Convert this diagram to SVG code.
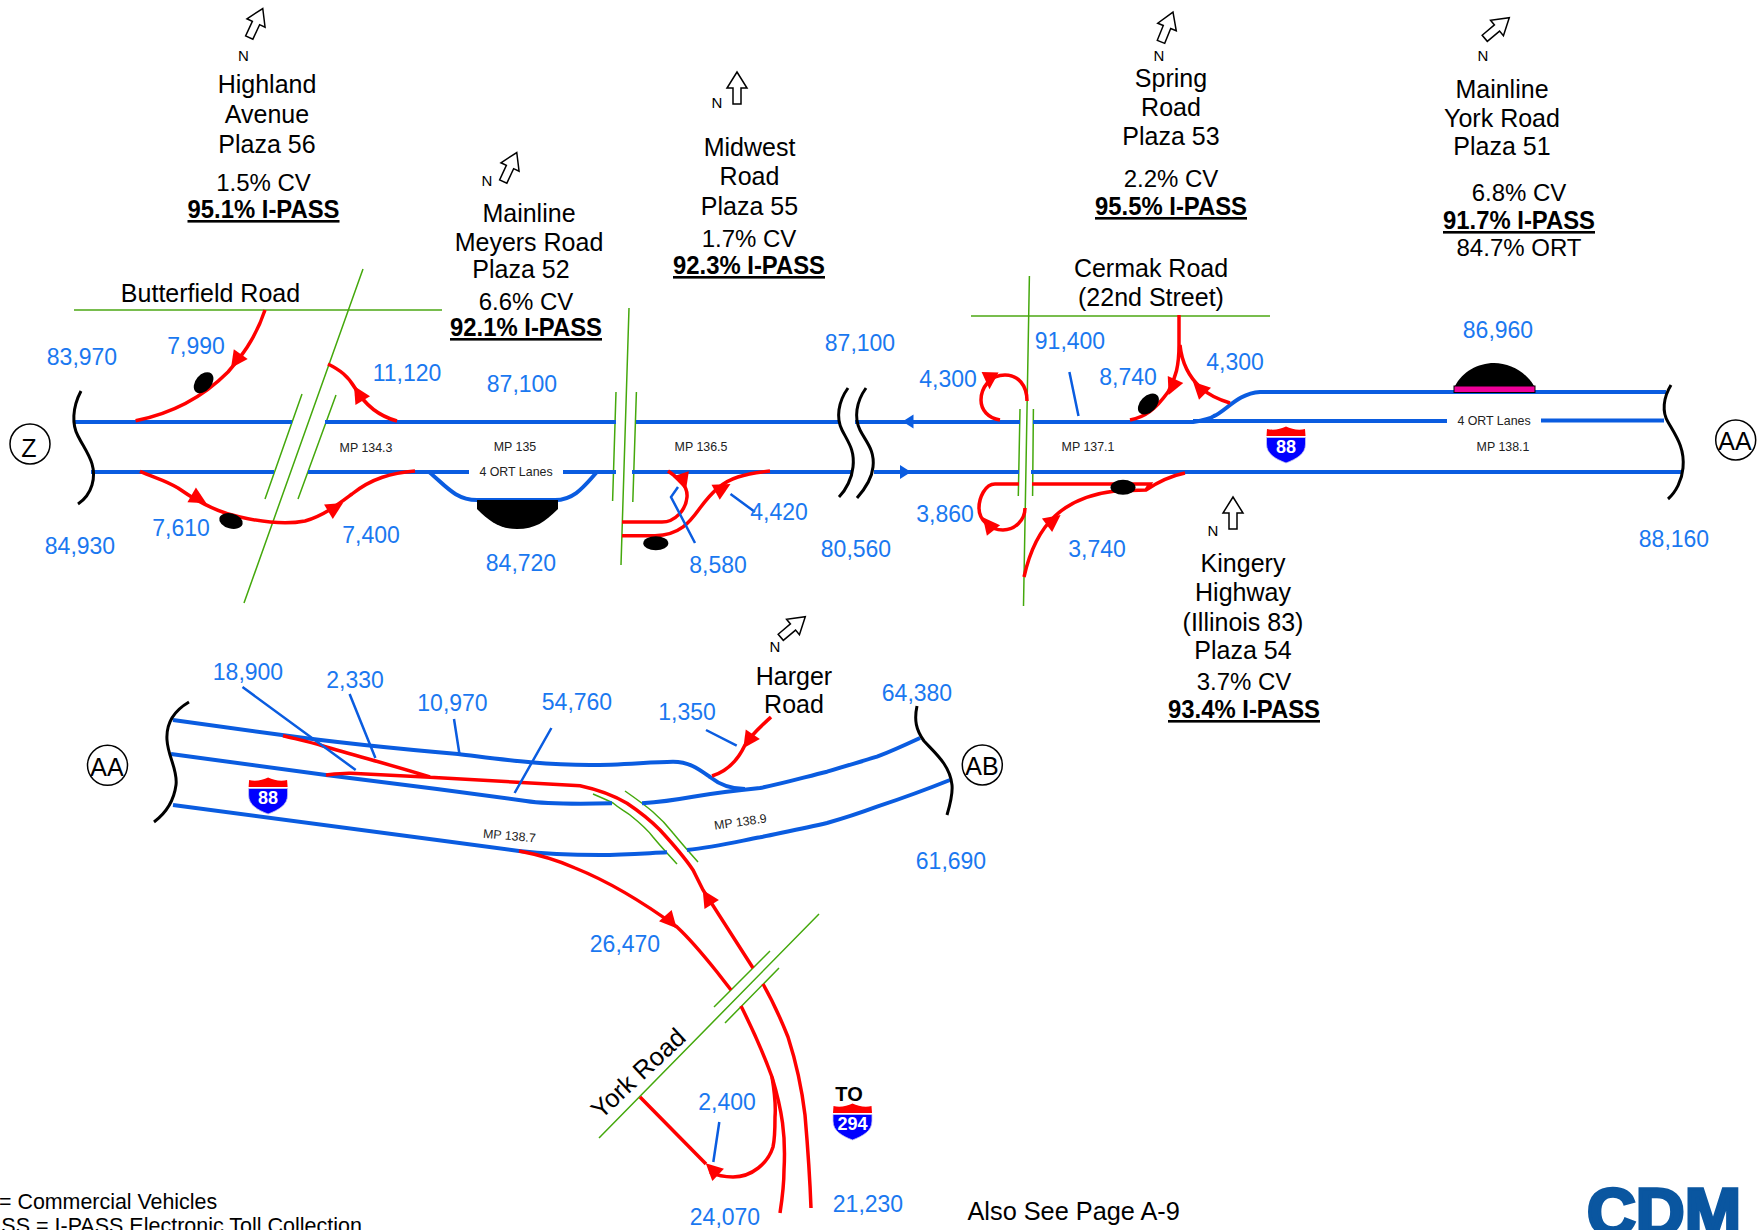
<svg xmlns="http://www.w3.org/2000/svg" xmlns:xlink="http://www.w3.org/1999/xlink" width="1762" height="1230" viewBox="0 0 1762 1230">
<style>
text{font-family:"Liberation Sans",Arial,sans-serif;fill:#000}
.t{font-size:25px;text-anchor:middle}
.c{font-size:24px;text-anchor:middle}
.b{font-size:26px;font-weight:bold;text-anchor:middle;text-decoration:underline}
.v{font-size:23px;text-anchor:middle;fill:#1a78f0}
.m{font-size:12.4px;text-anchor:middle;fill:#222}
.n{font-size:15px;text-anchor:middle}
.s{font-size:18px;font-weight:bold;text-anchor:middle;fill:#fff}
.road{fill:none;stroke:#0a5ce0;stroke-width:4}
.lead{fill:none;stroke:#0a5ce0;stroke-width:2.5}
.red{fill:none;stroke:#f00;stroke-width:3.5}
.g{fill:none;stroke:#44a80c;stroke-width:1.5}
.g2{fill:none;stroke:#78bd4e;stroke-width:2}
.k{fill:none;stroke:#000;stroke-width:3}
.ring{fill:#fff;stroke:#000;stroke-width:1.5}
.north{fill:#fff;stroke:#000;stroke-width:1.5}
</style>
<defs>
<path id="ah" d="M0,0L-17,-8.500L-17,8.500Z" fill="#f00"/>
<path id="bh" d="M0,0L-11,-7L-11,7Z" fill="#0a5ce0"/>
<path id="na" class="north" d="M0,-16L10,0L4,0L4,16L-4,16L-4,0L-10,0Z"/>
<g id="shield">
<path d="M0.5,3C6,4.5 14,3.5 19.5,0.5C25,3.5 33,4.5 38.5,3L39,10H0Z" fill="#f00"/>
<path d="M0,11.5H39V18C39,28 30,33 19.5,37C9,33 0,28 0,18Z" fill="#00f" stroke="#c6c6f0" stroke-width="0.8"/>
</g>
</defs>
<rect width="1762" height="1230" fill="#fff"/>

<g id="connectors">
<path class="g2" d="M74,310H442M971,316H1270"/>
<path class="g" d="M363,269L244,603M302,394L265,499M336,395L298,499M629,308L621,565M616,392L612.6,501M636.4,392L632.8,502M1029.4,276L1023.5,606M1020,409L1018.3,496M1033.4,409L1032.6,496"/>
<path class="g" d="M819,914L599,1138M770,951L714,1007M779,968L725,1023M593,794C600,797 607,800 613,803C620,809 625,811 630,815C640,823 647,829 653,837C662,848 670,856 677,864M625,791C635,798 645,805 653,812C660,818 666,824 673,833C682,844 690,853 698,862"/>
<path class="road" d="M75,422H292M325,422H616M636,422H839M855,422H1020M1033,422H1193C1205,420 1210,419 1214,416C1225,412 1238,393 1260,392H1666M1193,421H1447M1541,420.500H1664"/>
<path class="road" d="M91,472H274M308,472H469M563,472H616M632,472H853M874,472H1019M1031,472H1681M429,472C445,485 455,500 477,500H555C575,500 585,485 597,472"/>
<path class="road" d="M173,720L282,735C340,743 400,749 458,754C500,759 540,765 590,765C620,765 650,762 673,761.700C690,761.700 700,770 710,777C720,785 730,789 745,789"/>
<path class="road" d="M171,754L326,775L437,789L526,801C545,804 580,804 612,803.300M642,803.300C660,802 680,799 693,796.700C715,793 740,790 760,788C785,783 805,777 827,771.700C845,766 860,762 877,756.700C892,751 905,745 920,738"/>
<path class="road" d="M173,805L437,840L519,851C545,854 575,855 600,855C625,855 650,853 667,852.300M687,850C715,847 740,841 760,837.300C785,832 805,828 827,823C845,818 860,813 877,806.700C900,799 925,790 950,780"/>
<path class="k" d="M81,391C72,408 72,425 78,436C86,452 98,465 92,485C89,495 84,500 78,504"/>
<path class="k" d="M848,388C838,402 836,418 842,430C848,442 855,450 853,467C852,478 846,490 839,497"/>
<path class="k" d="M866,388C856,402 854,418 860,430C866,442 875,450 873,467C872,478 864,490 857,498"/>
<path class="k" d="M1671,385C1663,398 1662,412 1668,422C1676,436 1685,448 1683,468C1682,480 1676,492 1668,499"/>
<path class="k" d="M189,702C172,712 166,725 167,740C168,757 178,770 176,785C174,800 166,813 154,822"/>
<path class="k" d="M917,706C914,720 916,730 924,741C935,753 950,765 952,785C953,795 950,805 947,815"/>
<path class="red" d="M265,310C255,340 240,358 228,372C205,395 175,413 135.600,420.700"/>
<path class="red" d="M397,421C375,415 362,400 355,388C348,376 340,370 328,364"/>
<path class="red" d="M140,471.300C155,478 165,480 178,488C195,500 215,512 240,517C262,522 285,525 305,521C325,515 340,503 352,494C372,478 392,473 415,471"/>
<path class="red" d="M622,522H662C675,522 686,510 687,497C688,485 678,478 668,471"/>
<path class="red" d="M622,535.700H655C680,535 690,522 700,508C712,492 722,482 738,477C750,473 760,472 770,471"/>
<path class="red" d="M1027,401C1027,385 1018,375 1005,375C990,375 981,388 981,400C981,410 988,418 1000,420"/>
<path class="red" d="M1019,484H995C985,484 979,498 979,508C979,520 990,530 1003,530C1015,530 1025,520 1025,508"/>
<path class="red" d="M1032,484H1150L1146,490M1024,577C1030,550 1040,530 1055,516C1070,502 1090,494 1115,491L1146,490C1158,482 1170,476 1185,473"/>
<path class="red" d="M1179,315V345C1179,365 1176,378 1168,392C1155,410 1145,417 1130,420M1180,345C1182,365 1190,378 1201,388C1210,396 1220,400 1230,403"/>
<path class="red" d="M283,735.700C296,739 310,742 323,746C360,757 395,766 430,777M326,775C335,774 343,773 351,773.300L430,777.300L580,785.700C600,790 615,796 627,803.300C640,812 650,820 660,830C672,843 683,855 693,870L703,890L753,968"/>
<path class="red" d="M519,851C535,854 555,859 575,868C605,880 640,900 677,927C690,939 705,957 717,972L731,990"/>
<path class="red" d="M771,717C760,727 750,736 745,745C738,760 728,771 712,776"/>
<path class="red" d="M741,1006C752,1028 763,1052 772,1077C782,1110 786,1135 784,1170C784,1185 782,1200 780,1213"/>
<path class="red" d="M763,984C775,1005 782,1022 788,1037C797,1065 802,1090 805,1115C808,1150 810,1180 811,1208"/>
<path class="red" d="M772,1077C775,1095 776,1105 775,1117C775,1130 775,1138 773,1147C768,1163 752,1177 733,1177C725,1177 716,1175 710,1172M640,1097L706,1164"/>
<use href="#ah" transform="translate(231,368) rotate(125)"/>
<use href="#ah" transform="translate(354,386) rotate(-121)"/>
<use href="#ah" transform="translate(206.400,503.300) rotate(30)"/>
<use href="#ah" transform="translate(343,503) rotate(-31)"/>
<use href="#ah" transform="translate(686,490) rotate(72)"/>
<use href="#ah" transform="translate(730.500,484) rotate(-29)"/>
<use href="#ah" transform="translate(989.500,389.300) rotate(92)"/>
<use href="#ah" transform="translate(982.800,517.300) rotate(-129)"/>
<use href="#ah" transform="translate(1060.600,515) rotate(-37)"/>
<use href="#ah" transform="translate(1168.600,395) rotate(114)"/>
<use href="#ah" transform="translate(1193,381.700) rotate(-135)"/>
<use href="#ah" transform="translate(702.700,890) rotate(-122)"/>
<use href="#ah" transform="translate(676.700,928.300) rotate(48)"/>
<use href="#ah" transform="translate(743.300,748.300) rotate(124)"/>
<use href="#ah" transform="translate(705.700,1163.300) rotate(-137)"/>
<use href="#bh" transform="translate(902.500,421.500) rotate(180)"/>
<use href="#bh" transform="translate(911,472)"/>
<path class="lead" d="M678,487L671,497L695,543M730.500,494L755,512M1069.400,372L1078.500,416M242.500,687L355.700,770M349.600,694L375.400,758M454,719L459.600,755M551.400,728L514.600,793M706,730L736.700,745.700M719.300,1122L713.300,1162"/>
</g>

<g id="plazas">
<path fill="#000" d="M477,500H558V509C545,522 535,529 517,529C500,529 490,522 477,509Z"/>
<path fill="#000" d="M1455,386C1462,372 1478,363 1494,363C1510,363 1526,372 1534,386Z"/>
<rect x="1454" y="386" width="81" height="6.500" fill="#ee0099" stroke="#000" stroke-width="1"/>
<ellipse cx="203.600" cy="382.700" rx="12" ry="8" transform="rotate(-50 203.600 382.700)"/>
<ellipse cx="231" cy="521" rx="12" ry="7.500" transform="rotate(15 231 521)"/>
<ellipse cx="655.800" cy="543.300" rx="12.500" ry="7"/>
<ellipse cx="1148.400" cy="404" rx="12.500" ry="8" transform="rotate(-45 1148.400 404)"/>
<ellipse cx="1123" cy="487.300" rx="12.500" ry="7.500"/>
</g>

<g id="ref-z"><circle class="ring" cx="30" cy="444" r="20"/><text x="29" y="457" class="t">Z</text></g>
<g id="ref-aa-1"><circle class="ring" cx="1735.700" cy="440" r="20"/><text x="1735" y="450" class="t">AA</text></g>
<g id="ref-aa-2"><circle class="ring" cx="107.500" cy="765.300" r="20"/><text x="107" y="776" class="t">AA</text></g>
<g id="ref-ab"><circle class="ring" cx="982.300" cy="765" r="20"/><text x="982" y="775" class="t">AB</text></g>

<g id="shield-88-a" transform="translate(1266.500,426)"><use href="#shield"/><text x="19.500" y="27" class="s">88</text></g>
<g id="shield-88-b" transform="translate(248.600,777)"><use href="#shield"/><text x="19.500" y="27" class="s">88</text></g>
<g id="shield-294" transform="translate(833,1103)"><use href="#shield"/><text x="19.500" y="27" class="s">294</text></g>
<text id="to-label" x="849" y="1101" font-size="20" font-weight="bold" text-anchor="middle">TO</text>

<g id="plaza-56">
<use href="#na" transform="translate(256,23) rotate(25)"/>
<text x="243.500" y="61" class="n">N</text>
<text x="267" y="93" class="t">Highland</text><text x="267" y="123" class="t">Avenue</text><text x="267" y="153" class="t">Plaza 56</text>
<text x="263.500" y="191" class="c">1.5% CV</text>
<text x="263.500" y="218" class="b" textLength="152" lengthAdjust="spacingAndGlyphs">95.1% I-PASS</text>
</g>
<g id="plaza-52">
<use href="#na" transform="translate(510,167) rotate(25)"/>
<text x="487" y="186" class="n">N</text>
<text x="529" y="222" class="t">Mainline</text><text x="529" y="251" class="t">Meyers Road</text><text x="521" y="278" class="t">Plaza 52</text>
<text x="526" y="310" class="c">6.6% CV</text>
<text x="526" y="336" class="b" textLength="152" lengthAdjust="spacingAndGlyphs">92.1% I-PASS</text>
</g>
<g id="plaza-55">
<use href="#na" transform="translate(737,88)"/>
<text x="717" y="108" class="n">N</text>
<text x="749.500" y="156" class="t">Midwest</text><text x="749.500" y="185" class="t">Road</text><text x="749.500" y="214.500" class="t">Plaza 55</text>
<text x="749" y="247" class="c">1.7% CV</text>
<text x="749" y="274" class="b" textLength="152" lengthAdjust="spacingAndGlyphs">92.3% I-PASS</text>
</g>
<g id="plaza-53">
<use href="#na" transform="translate(1167,27) rotate(22)"/>
<text x="1159" y="60.500" class="n">N</text>
<text x="1171" y="87" class="t">Spring</text><text x="1171" y="116" class="t">Road</text><text x="1171" y="145" class="t">Plaza 53</text>
<text x="1171" y="187" class="c">2.2% CV</text>
<text x="1171" y="215" class="b" textLength="152" lengthAdjust="spacingAndGlyphs">95.5% I-PASS</text>
</g>
<g id="plaza-51">
<use href="#na" transform="translate(1497,28) rotate(50)"/>
<text x="1483" y="61" class="n">N</text>
<text x="1502" y="98" class="t">Mainline</text><text x="1502" y="127" class="t">York Road</text><text x="1502" y="155" class="t">Plaza 51</text>
<text x="1519" y="201" class="c">6.8% CV</text>
<text x="1519" y="229" class="b" textLength="152" lengthAdjust="spacingAndGlyphs">91.7% I-PASS</text>
<text x="1519" y="256" class="c">84.7% ORT</text>
</g>
<g id="plaza-54">
<use href="#na" transform="translate(1233,513)"/>
<text x="1213" y="536" class="n">N</text>
<text x="1243" y="572" class="t">Kingery</text><text x="1243" y="601" class="t">Highway</text><text x="1243" y="631" class="t">(Illinois 83)</text><text x="1243" y="659" class="t">Plaza 54</text>
<text x="1244" y="690" class="c">3.7% CV</text>
<text x="1244" y="718" class="b" textLength="152" lengthAdjust="spacingAndGlyphs">93.4% I-PASS</text>
</g>
<g id="harger-road">
<use href="#na" transform="translate(793,627) rotate(50)"/>
<text x="775" y="652" class="n">N</text>
<text x="794" y="685" class="t">Harger</text><text x="794" y="713" class="t">Road</text>
</g>

<g id="road-names">
<text x="210.500" y="302" class="t">Butterfield Road</text>
<text x="1151" y="277" class="t">Cermak Road</text><text x="1151" y="306" class="t">(22nd Street)</text>
<text x="601" y="1120" font-size="25.500" transform="rotate(-43 601 1120)">York Road</text>
</g>

<g id="road-notes">
<text x="516" y="476" class="m">4 ORT Lanes</text>
<text x="1494" y="425" class="m">4 ORT Lanes</text>
<text x="366" y="452" class="m">MP 134.3</text>
<text x="515" y="451" class="m">MP 135</text>
<text x="701" y="451" class="m">MP 136.5</text>
<text x="1088" y="451" class="m">MP 137.1</text>
<text x="1503" y="451" class="m">MP 138.1</text>
<text x="509" y="840" class="m" transform="rotate(5 509 840)">MP 138.7</text>
<text x="741" y="826" class="m" transform="rotate(-8 741 826)">MP 138.9</text>
</g>

<g id="volumes">
<text x="82" y="365" class="v">83,970</text>
<text x="196" y="354" class="v">7,990</text>
<text x="181" y="536" class="v">7,610</text>
<text x="80" y="554" class="v">84,930</text>
<text x="371" y="543" class="v">7,400</text>
<text x="407" y="381" class="v">11,120</text>
<text x="522" y="392" class="v">87,100</text>
<text x="521" y="571" class="v">84,720</text>
<text x="860" y="351" class="v">87,100</text>
<text x="948" y="387" class="v">4,300</text>
<text x="1070" y="349" class="v">91,400</text>
<text x="1128" y="385" class="v">8,740</text>
<text x="1235" y="370" class="v">4,300</text>
<text x="1498" y="338" class="v">86,960</text>
<text x="945" y="522" class="v">3,860</text>
<text x="1097" y="557" class="v">3,740</text>
<text x="856" y="557" class="v">80,560</text>
<text x="779" y="520" class="v">4,420</text>
<text x="718" y="573" class="v">8,580</text>
<text x="1674" y="547" class="v">88,160</text>
<text x="248" y="680" class="v">18,900</text>
<text x="355" y="688" class="v">2,330</text>
<text x="452.500" y="711" class="v">10,970</text>
<text x="577" y="710" class="v">54,760</text>
<text x="687" y="720" class="v">1,350</text>
<text x="917" y="701" class="v">64,380</text>
<text x="951" y="869" class="v">61,690</text>
<text x="625" y="952" class="v">26,470</text>
<text x="727" y="1110" class="v">2,400</text>
<text x="725" y="1225" class="v">24,070</text>
<text x="868" y="1212" class="v">21,230</text>
</g>

<g id="footer">
<text x="967.500" y="1220" font-size="25.300">Also See Page A-9</text>
<text x="-1" y="1209" font-size="21.400">= Commercial Vehicles</text>
<text x="362" y="1233" font-size="21.500" text-anchor="end">SS = I-PASS Electronic Toll Collection</text>
<text x="1587" y="1235" font-size="67" font-weight="bold" stroke="#0a56a0" stroke-width="3.500" style="fill:#0a56a0" textLength="154" lengthAdjust="spacingAndGlyphs">CDM</text>
</g>
</svg>
